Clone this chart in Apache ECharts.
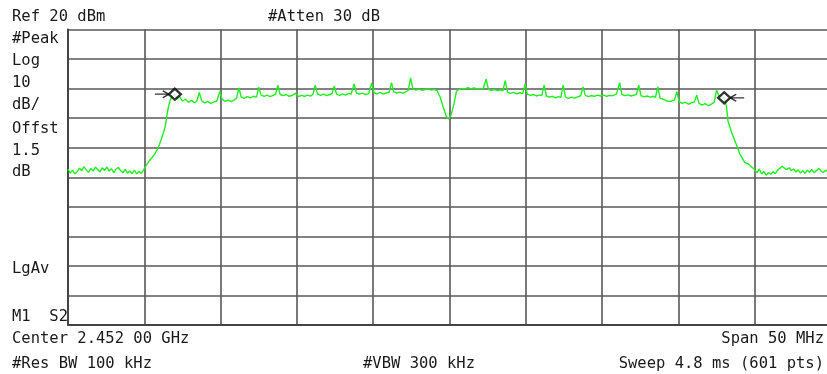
<!DOCTYPE html>
<html>
<head>
<meta charset="utf-8">
<script src="https://cdn.jsdelivr.net/npm/echarts@6/dist/echarts.min.js"></script>
<style>
html,body{margin:0;padding:0;background:#fff;overflow:hidden;width:827px;height:374px;}
#chart{width:840px;height:374px;}
</style>
</head>
<body>
<div id="chart"></div>
<script>
// ---- instrument settings ----
const centerMHz = 2452;
const spanMHz = 50;
const refLevel = 20;      // dBm (top of screen)
const dbPerDiv = 10;
const divisions = 10;

// ---- annotations ----
const topLeftText = 'Ref 20 dBm';
const topMidText = '#Atten 30 dB';
const sideLabels = ['#Peak', 'Log', '10', 'dB/', 'Offst', '1.5', 'dB'];
const sideLabelY = [39, 61, 83, 105, 129, 151, 172];
const detectorText = 'LgAv';
const markerModeText = 'M1  S2';
const bottomLeft = ['Center 2.452 00 GHz', '#Res BW 100 kHz'];
const bottomMid = '#VBW 300 kHz';
const bottomRight = ['Span 50 MHz', 'Sweep 4.8 ms (601 pts)'];

// ---- markers (MHz, dBm) ----
const markerFreqs = [2434.0, 2470.0];
const markerLevels = [-1.9, -3.1];

// ---- trace: [frequency MHz, level dBm] ----
const trace = [
[2427.0,-27.2],[2427.15,-28.6],[2427.3,-27.6],[2427.45,-28.9],[2427.6,-28.1],[2427.75,-26.9],
[2427.9,-27.8],[2428.05,-26.4],[2428.2,-27.5],[2428.35,-28.3],[2428.5,-27.0],[2428.65,-27.9],
[2428.8,-26.6],[2428.95,-27.4],[2429.1,-28.2],[2429.25,-26.8],[2429.4,-27.7],[2429.55,-26.5],
[2429.7,-27.9],[2429.85,-27.1],[2430.0,-28.4],[2430.15,-27.2],[2430.3,-26.7],[2430.45,-27.8],
[2430.6,-28.5],[2430.75,-27.3],[2430.9,-28.6],[2431.05,-27.9],[2431.2,-28.8],[2431.35,-27.6],
[2431.5,-28.9],[2431.65,-28.0],[2431.8,-28.7],[2431.95,-27.5],
[2432.1,-26.2],[2432.3,-24.6],[2432.5,-23.4],[2432.7,-22.0],[2432.85,-20.6],[2433.0,-18.8],
[2433.15,-16.5],[2433.3,-14.2],[2433.4,-12.0],[2433.5,-8.5],[2433.6,-5.8],[2433.7,-3.8],
[2433.85,-2.4],[2434.0,-1.9],
[2434.15,-3.5],[2434.3,-2.6],[2434.5,-4.2],[2434.7,-3.6],[2434.9,-4.6],[2435.1,-4.0],[2435.3,-4.8],
[2435.45,-4.2],[2435.6,-1.3],[2435.75,-4.0],[2435.95,-4.9],[2436.15,-4.3],[2436.35,-5.0],
[2436.55,-4.6],[2436.75,-4.2],[2436.95,-1.0],[2437.1,-3.6],[2437.3,-4.3],[2437.5,-3.9],
[2437.7,-4.4],[2437.9,-3.8],[2438.05,-3.2],[2438.2,0.2],[2438.35,-2.9],[2438.55,-3.3],
[2438.75,-2.7],[2438.95,-3.1],[2439.15,-2.6],[2439.35,-2.9],[2439.5,0.5],[2439.65,-2.2],
[2439.85,-2.6],[2440.05,-2.2],[2440.25,-2.7],[2440.45,-2.3],[2440.6,-1.9],[2440.75,1.2],
[2440.9,-2.0],[2441.1,-2.4],[2441.3,-2.0],[2441.5,-2.6],[2441.7,-2.3],[2441.9,-1.6],
[2442.1,-2.7],[2442.3,-2.3],[2442.5,-2.6],[2442.7,-2.2],[2442.9,-2.5],[2443.05,-2.0],
[2443.2,1.2],[2443.35,-1.8],[2443.55,-2.3],[2443.75,-1.9],[2443.95,-2.4],[2444.15,-2.0],
[2444.3,-1.7],[2444.45,0.9],[2444.6,-1.9],[2444.8,-2.3],[2445.0,-1.8],[2445.2,-2.2],
[2445.4,-1.6],[2445.55,-1.9],[2445.75,1.6],[2445.9,-1.5],[2446.1,-1.9],[2446.3,-1.5],
[2446.5,-2.0],[2446.7,-1.7],[2446.9,1.9],[2447.05,-1.4],[2447.25,-1.8],[2447.45,-1.3],
[2447.65,-1.9],[2447.85,-1.5],[2448.05,-1.2],[2448.2,2.0],[2448.35,-1.1],[2448.55,-1.5],
[2448.75,-1.2],[2448.95,-1.6],[2449.15,-1.0],[2449.3,-0.6],[2449.45,3.6],[2449.6,-0.2],
[2449.8,-0.5],[2450.0,-0.2],[2450.2,-0.6],[2450.4,-0.3],[2450.6,-0.1],[2450.8,-0.5],
[2451.0,-0.3],[2451.2,-0.8],[2451.4,-3.0],[2451.6,-6.5],[2451.8,-9.5],[2451.95,-10.3],
[2452.1,-9.0],[2452.3,-5.0],[2452.45,-1.0],[2452.6,-0.3],[2452.8,0.1],[2453.0,-0.2],
[2453.2,0.3],[2453.4,-0.1],[2453.6,0.2],[2453.8,-0.2],[2454.0,0.1],[2454.2,-0.2],
[2454.4,3.2],[2454.55,-0.3],[2454.75,-0.6],[2454.95,-0.3],[2455.15,-0.7],[2455.35,-0.4],
[2455.5,-0.8],[2455.65,2.7],[2455.8,-1.2],[2456.0,-1.6],[2456.2,-1.3],[2456.4,-1.8],
[2456.6,-1.4],[2456.8,-1.7],[2456.95,1.6],[2457.1,-1.9],[2457.3,-2.3],[2457.5,-2.0],
[2457.7,-2.5],[2457.9,-2.1],[2458.05,-2.4],[2458.2,1.2],[2458.35,-2.5],[2458.55,-2.9],
[2458.75,-2.6],[2458.95,-3.1],[2459.15,-2.7],[2459.3,-3.0],[2459.45,1.2],[2459.6,-2.9],
[2459.8,-3.3],[2460.0,-2.9],[2460.2,-3.2],[2460.4,-2.8],[2460.6,-2.4],[2460.75,0.6],
[2460.9,-2.3],[2461.1,-2.7],[2461.3,-2.4],[2461.5,-2.6],[2461.7,-2.2],[2461.9,-2.5],
[2462.1,-2.2],[2462.3,-2.6],[2462.5,-2.3],[2462.7,-2.4],[2462.95,-1.8],[2463.15,2.0],
[2463.3,-2.0],[2463.5,-2.4],[2463.7,-2.1],[2463.9,-2.5],[2464.1,-2.2],[2464.25,-2.0],
[2464.4,1.2],[2464.55,-2.4],[2464.75,-2.8],[2464.95,-2.5],[2465.15,-2.9],[2465.35,-2.6],
[2465.5,-3.0],[2465.65,0.6],[2465.8,-3.2],[2466.0,-3.6],[2466.2,-4.1],[2466.4,-4.4],
[2466.6,-4.1],[2466.75,-3.8],[2466.9,-1.0],[2467.05,-4.4],[2467.25,-5.0],[2467.45,-4.6],
[2467.65,-5.3],[2467.85,-4.8],[2468.05,-4.5],[2468.2,-2.2],[2468.35,-5.0],[2468.55,-5.6],
[2468.75,-5.1],[2468.95,-5.8],[2469.15,-5.3],[2469.35,-4.6],[2469.5,-0.5],[2469.65,-2.5],
[2469.85,-3.0],[2470.0,-3.1],
[2470.15,-6.0],[2470.25,-11.0],[2470.5,-15.0],[2470.8,-19.0],[2471.05,-22.4],[2471.35,-25.0],
[2471.6,-25.6],[2471.8,-26.5],[2472.0,-27.4],[2472.15,-28.5],[2472.3,-27.2],[2472.45,-28.9],
[2472.6,-28.0],[2472.75,-29.3],[2472.9,-28.4],[2473.05,-29.0],[2473.2,-28.1],[2473.35,-28.8],
[2473.5,-27.6],[2473.65,-27.0],[2473.8,-26.3],[2473.95,-26.9],[2474.1,-27.4],[2474.25,-26.8],
[2474.4,-27.7],[2474.55,-27.2],[2474.7,-28.2],[2474.85,-27.5],[2475.0,-28.6],[2475.15,-27.8],
[2475.3,-28.7],[2475.45,-27.6],[2475.6,-28.3],[2475.75,-27.4],[2475.9,-28.5],[2476.05,-27.7],
[2476.2,-27.0],[2476.35,-27.9],[2476.5,-28.4],[2476.65,-27.6],[2476.8,-28.2],[2476.95,-27.9]
];

// ---- build ----
const toOffset = f => f - centerMHz;   // x axis is offset from centre (MHz)
const traceData = trace.map(p => [toOffset(p[0]), p[1]]);
const markerData = markerFreqs.map((f, i) => [toOffset(f), markerLevels[i]]);

const chart = echarts.init(document.getElementById('chart'), null, {renderer: 'canvas'});
const FONT = '"DejaVu Sans Mono", "Liberation Mono", monospace';
const TXT = '#1a1a1a';
const FS = 15.5;

function txt(text, x, y, align) {
  return {
    type: 'text', x: x, y: y, silent: true,
    style: {text: text, fill: TXT, font: FS + 'px ' + FONT,
            textAlign: align || 'left', textVerticalAlign: 'middle'}
  };
}

const graphics = [];
graphics.push(txt(topLeftText, 12, 17));
graphics.push(txt(topMidText, 268, 17));
sideLabels.forEach((s, i) => graphics.push(txt(s, 12, sideLabelY[i])));
graphics.push(txt(detectorText, 12, 269));
graphics.push(txt(markerModeText, 12, 317));
graphics.push(txt(bottomLeft[0], 12, 339));
graphics.push(txt(bottomLeft[1], 12, 364));
graphics.push(txt(bottomMid, 363, 364));
graphics.push(txt(bottomRight[0], 824, 339, 'right'));
graphics.push(txt(bottomRight[1], 824, 364, 'right'));

const gridColor = '#585858';

chart.setOption({
  animation: false,
  backgroundColor: '#ffffff',
  grid: {left: 68, width: 763, top: 29.5, height: 295.5, containLabel: false},
  xAxis: {
    type: 'value',
    min: -spanMHz / 2, max: spanMHz / 2, interval: spanMHz / divisions,
    axisLine: {show: true, onZero: false, lineStyle: {color: '#444', width: 2}},
    axisTick: {show: false}, axisLabel: {show: false},
    splitLine: {show: true, lineStyle: {color: gridColor, width: 1.6}}
  },
  yAxis: {
    type: 'value',
    min: refLevel - dbPerDiv * divisions, max: refLevel, interval: dbPerDiv,
    axisLine: {show: true, onZero: false, lineStyle: {color: '#444', width: 2}},
    axisTick: {show: false}, axisLabel: {show: false},
    splitLine: {show: true, lineStyle: {color: gridColor, width: 1.6}}
  },
  series: [
    {
      type: 'line', data: traceData, showSymbol: false, symbol: 'none',
      lineStyle: {color: '#1fef1f', width: 1.4}, clip: true, z: 3
    },
    {
      type: 'scatter', data: markerData, symbol: 'diamond', symbolSize: [12, 11],
      itemStyle: {color: '#ffffff', borderColor: '#000', borderWidth: 2.4}, z: 5
    },
    {
      type: 'scatter', data: [markerData[0]],
      symbol: 'path://M0,5L14,5M8,0L14,5L8,10', symbolSize: [14, 10], symbolKeepAspect: true,
      symbolOffset: [-13, 0],
      itemStyle: {color: 'rgba(0,0,0,0)', borderColor: '#000', borderWidth: 1.5}, z: 4
    },
    {
      type: 'scatter', data: [markerData[1]],
      symbol: 'path://M14,5L0,5M6,0L0,5L6,10', symbolSize: [14, 10], symbolKeepAspect: true,
      symbolOffset: [13, 0],
      itemStyle: {color: 'rgba(0,0,0,0)', borderColor: '#000', borderWidth: 1.5}, z: 4
    }
  ],
  graphic: graphics
});
</script>
</body>
</html>
